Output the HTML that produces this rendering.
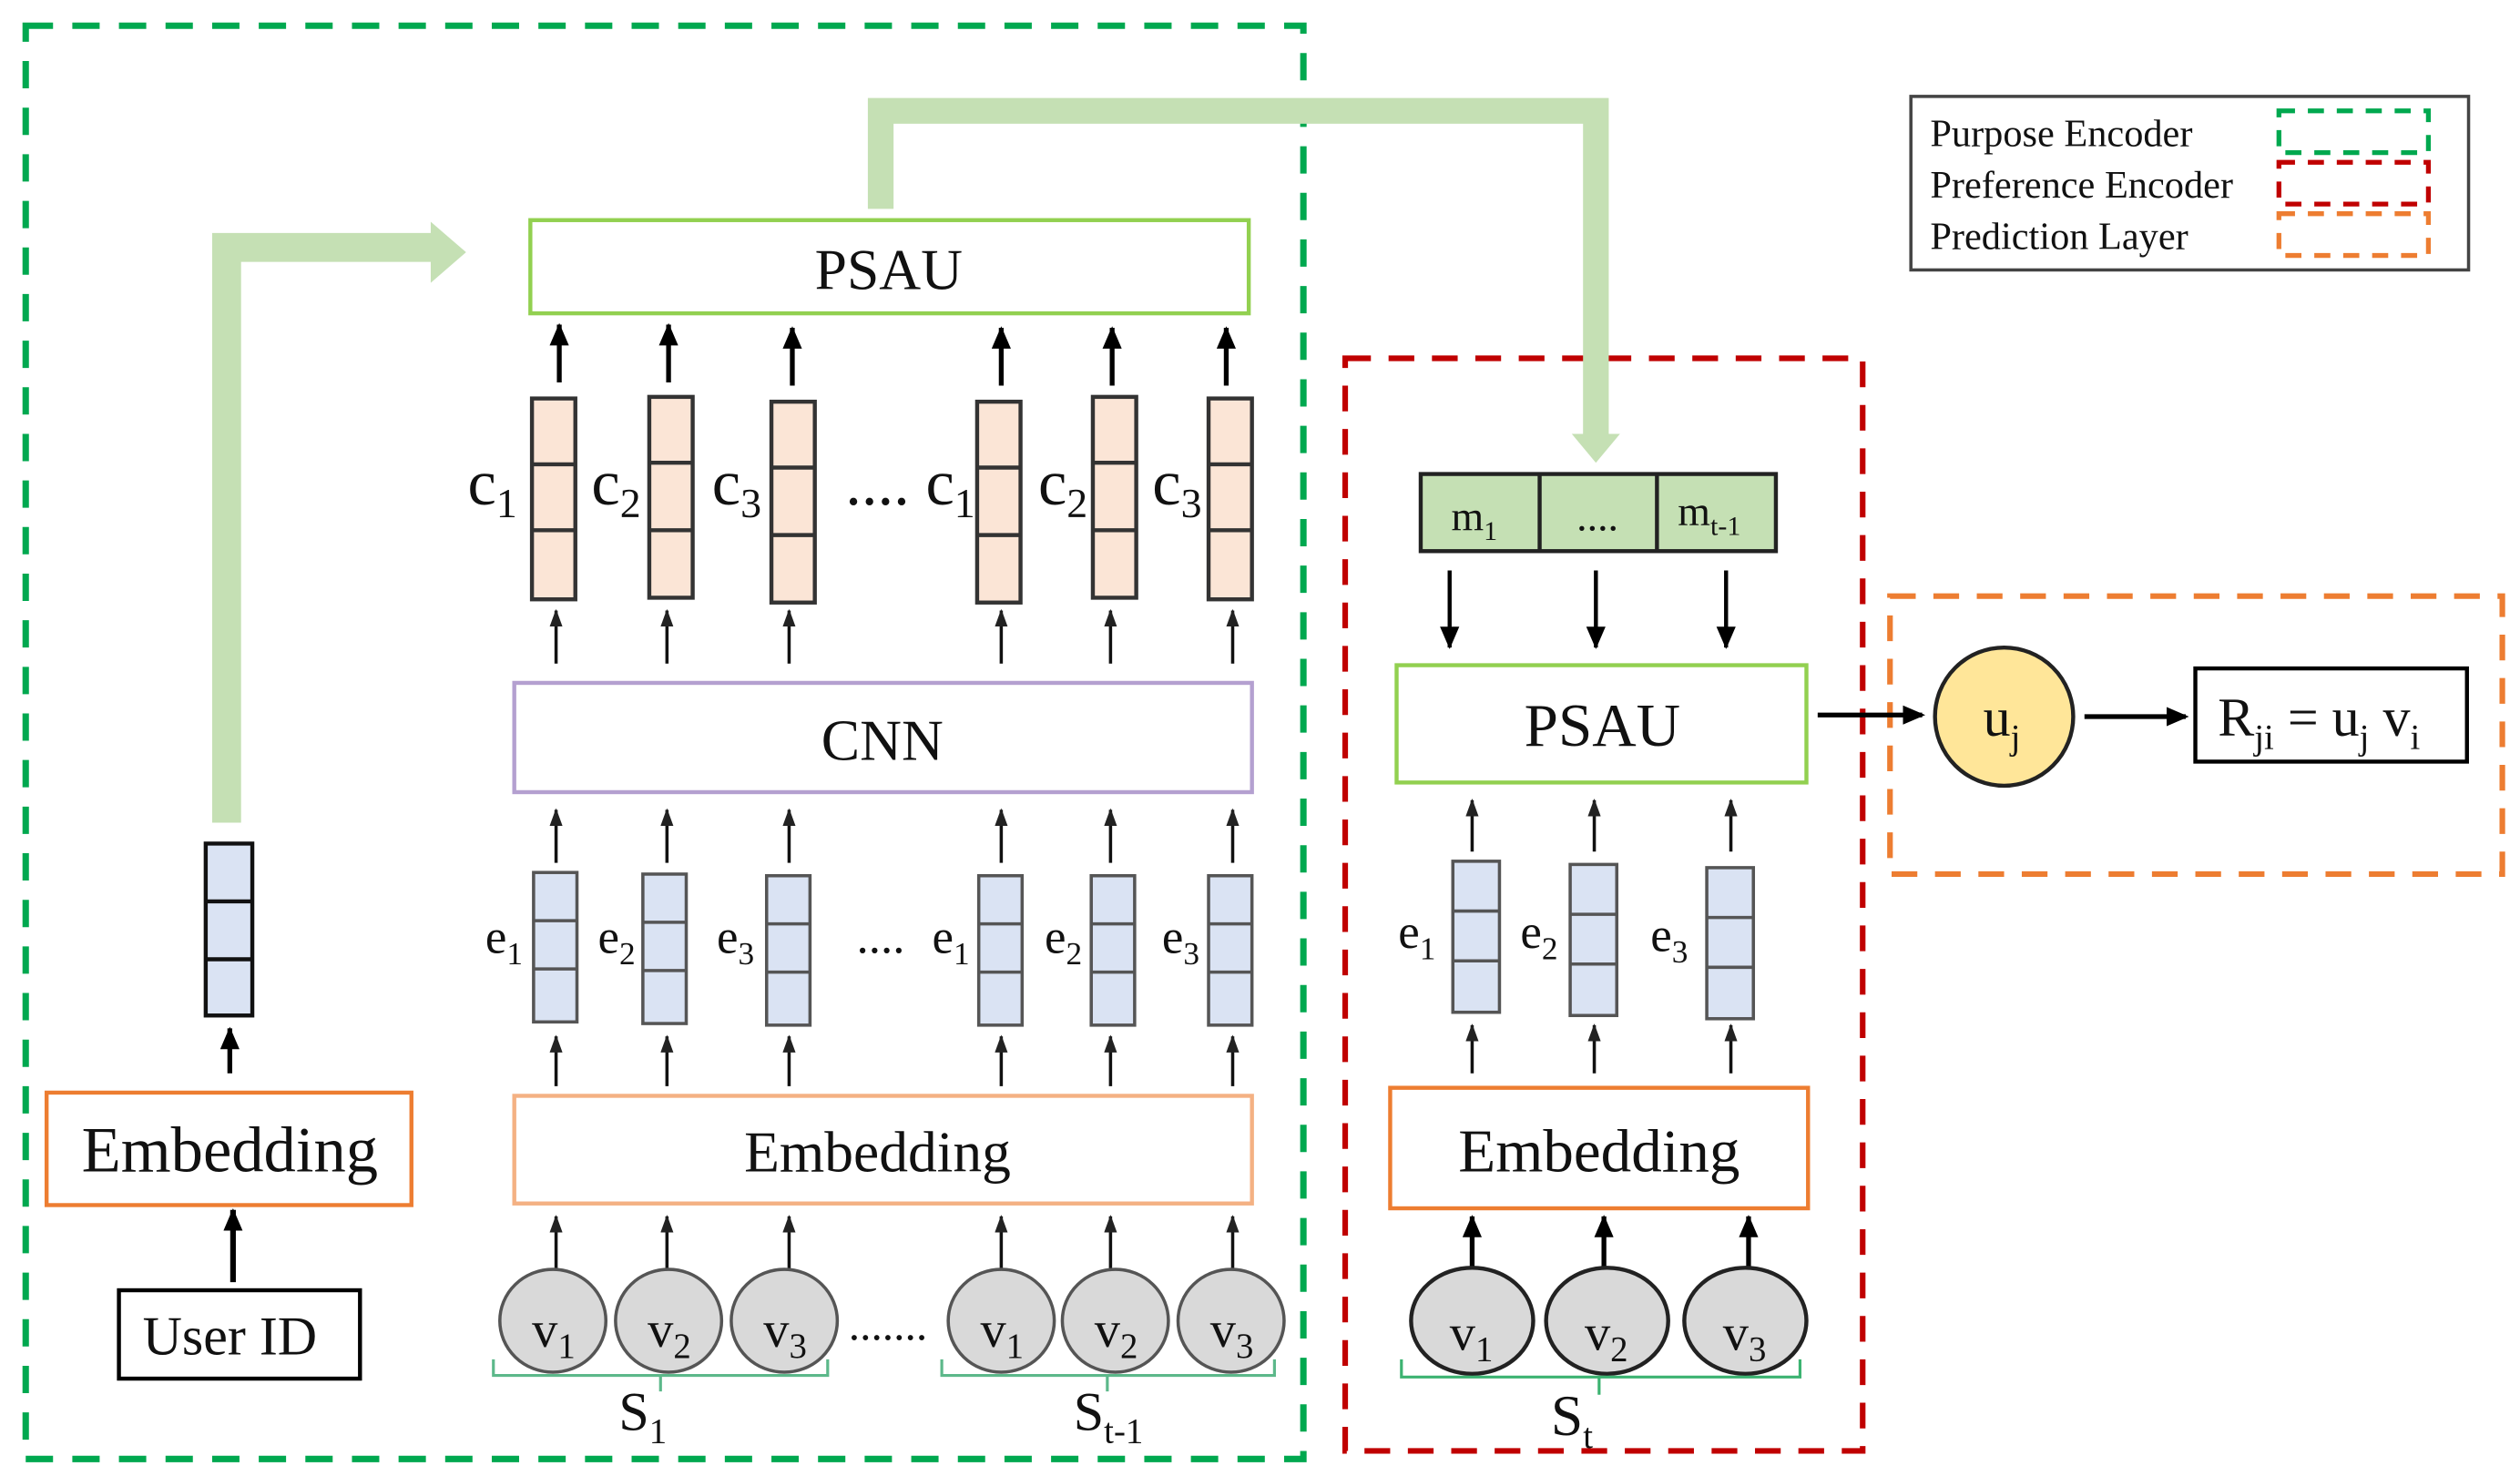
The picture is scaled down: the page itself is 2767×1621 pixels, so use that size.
<!DOCTYPE html>
<html><head><meta charset="utf-8"><style>
html,body{margin:0;padding:0;background:#fff;font-family:"Liberation Serif","DejaVu Serif",serif;}
svg{display:block;}
svg text, svg tspan{font-family:"Liberation Serif","DejaVu Serif",serif !important;fill:#111;}
</style></head><body>
<svg width="2767" height="1621" viewBox="0 0 1568 918.6" preserveAspectRatio="none" xmlns="http://www.w3.org/2000/svg" font-family="'Liberation Serif', 'DejaVu Serif', serif">
<defs>
<marker id="ah" markerUnits="userSpaceOnUse" markerWidth="14" markerHeight="12" refX="13" refY="6" orient="auto" viewBox="0 0 14 12">
<path d="M0,0 L14,6 L0,12 Z" fill="#000"/></marker>
<marker id="as" markerUnits="userSpaceOnUse" markerWidth="11" markerHeight="8" refX="10" refY="4" orient="auto" viewBox="0 0 11 8">
<path d="M0,0 L11,4 L0,8 Z" fill="#222"/></marker>
<marker id="ar" markerUnits="userSpaceOnUse" markerWidth="14" markerHeight="12" refX="12" refY="6" orient="auto" viewBox="0 0 14 12">
<path d="M0,0 L14,6 L0,12 Z" fill="#000"/></marker>
</defs>

<rect x="16" y="16" width="795" height="892" fill="none" stroke="#00a84f" stroke-width="4" stroke-dasharray="17,12"/>
<rect x="837" y="223" width="322" height="680" fill="none" stroke="#c00000" stroke-width="3.5" stroke-dasharray="16,11"/>
<rect x="1176" y="371" width="381" height="173" fill="none" stroke="#ed7d31" stroke-width="3.5" stroke-dasharray="16,11"/>

<rect x="1189" y="60" width="347" height="108" fill="#fff" stroke="#444" stroke-width="2"/>
<text x="1201" y="91" font-size="24">Purpose Encoder</text>
<text x="1201" y="123" font-size="24">Preference Encoder</text>
<text x="1201" y="155" font-size="24">Prediction Layer</text>
<rect x="1418" y="69" width="93" height="26" fill="none" stroke="#00a84f" stroke-width="3" stroke-dasharray="10,8"/>
<rect x="1418" y="101" width="93" height="26" fill="none" stroke="#c00000" stroke-width="3" stroke-dasharray="10,8"/>
<rect x="1418" y="133" width="93" height="26" fill="none" stroke="#ed7d31" stroke-width="3" stroke-dasharray="10,8"/>

<path d="M141,512 V154 H270" fill="none" stroke="#c5e0b4" stroke-width="18"/>
<polygon points="268,138 290,157 268,176" fill="#c5e0b4"/>
<path d="M548,130 V69 H993 V272" fill="none" stroke="#c5e0b4" stroke-width="16"/>
<polygon points="978,270 1008,270 993,288" fill="#c5e0b4"/>

<rect x="330" y="137" width="447" height="58" fill="#fff" stroke="#92d050" stroke-width="2.5"/>
<text x="553" y="180" font-size="36" text-anchor="middle">PSAU</text>

<g stroke="#000" stroke-width="3" marker-end="url(#ah)">
<line x1="348" y1="238" x2="348" y2="202"/><line x1="416" y1="238" x2="416" y2="202"/>
<line x1="493" y1="240" x2="493" y2="204"/><line x1="623" y1="240" x2="623" y2="204"/>
<line x1="692" y1="240" x2="692" y2="204"/><line x1="763" y1="240" x2="763" y2="204"/>
</g>

<g fill="#fbe5d6" stroke="#333" stroke-width="2.5">
<rect x="331" y="248" width="27" height="125"/><line x1="331" y1="289" x2="358" y2="289"/><line x1="331" y1="330" x2="358" y2="330"/>
<rect x="404" y="247" width="27" height="125"/><line x1="404" y1="288" x2="431" y2="288"/><line x1="404" y1="330" x2="431" y2="330"/>
<rect x="480" y="250" width="27" height="125"/><line x1="480" y1="291" x2="507" y2="291"/><line x1="480" y1="333" x2="507" y2="333"/>
<rect x="608" y="250" width="27" height="125"/><line x1="608" y1="291" x2="635" y2="291"/><line x1="608" y1="333" x2="635" y2="333"/>
<rect x="680" y="247" width="27" height="125"/><line x1="680" y1="288" x2="707" y2="288"/><line x1="680" y1="330" x2="707" y2="330"/>
<rect x="752" y="248" width="27" height="125"/><line x1="752" y1="289" x2="779" y2="289"/><line x1="752" y1="330" x2="779" y2="330"/>
</g>
<g font-size="40">
<text x="291" y="314">c<tspan font-size="26" dy="8">1</tspan></text>
<text x="368" y="314">c<tspan font-size="26" dy="8">2</tspan></text>
<text x="443" y="314">c<tspan font-size="26" dy="8">3</tspan></text>
<text x="526" y="314">....</text>
<text x="576" y="314">c<tspan font-size="26" dy="8">1</tspan></text>
<text x="646" y="314">c<tspan font-size="26" dy="8">2</tspan></text>
<text x="717" y="314">c<tspan font-size="26" dy="8">3</tspan></text>
</g>

<g stroke="#111" stroke-width="2" marker-end="url(#as)">
<line x1="346" y1="413" x2="346" y2="380"/><line x1="415" y1="413" x2="415" y2="380"/>
<line x1="491" y1="413" x2="491" y2="380"/><line x1="623" y1="413" x2="623" y2="380"/>
<line x1="691" y1="413" x2="691" y2="380"/><line x1="767" y1="413" x2="767" y2="380"/>
</g>

<rect x="320" y="425" width="459" height="68" fill="#fff" stroke="#b4a0d0" stroke-width="2.5"/>
<text x="549" y="473" font-size="36" text-anchor="middle">CNN</text>

<g stroke="#111" stroke-width="2" marker-end="url(#as)">
<line x1="346" y1="537" x2="346" y2="504"/><line x1="415" y1="537" x2="415" y2="504"/>
<line x1="491" y1="537" x2="491" y2="504"/><line x1="623" y1="537" x2="623" y2="504"/>
<line x1="691" y1="537" x2="691" y2="504"/><line x1="767" y1="537" x2="767" y2="504"/>
</g>

<g fill="#dae3f3" stroke="#555" stroke-width="2">
<rect x="332" y="543" width="27" height="93"/><line x1="332" y1="573" x2="359" y2="573"/><line x1="332" y1="603" x2="359" y2="603"/>
<rect x="400" y="544" width="27" height="93"/><line x1="400" y1="574" x2="427" y2="574"/><line x1="400" y1="604" x2="427" y2="604"/>
<rect x="477" y="545" width="27" height="93"/><line x1="477" y1="575" x2="504" y2="575"/><line x1="477" y1="605" x2="504" y2="605"/>
<rect x="609" y="545" width="27" height="93"/><line x1="609" y1="575" x2="636" y2="575"/><line x1="609" y1="605" x2="636" y2="605"/>
<rect x="679" y="545" width="27" height="93"/><line x1="679" y1="575" x2="706" y2="575"/><line x1="679" y1="605" x2="706" y2="605"/>
<rect x="752" y="545" width="27" height="93"/><line x1="752" y1="575" x2="779" y2="575"/><line x1="752" y1="605" x2="779" y2="605"/>
</g>
<g font-size="30" fill="#333">
<text x="302" y="593">e<tspan font-size="20" dy="7">1</tspan></text>
<text x="372" y="593">e<tspan font-size="20" dy="7">2</tspan></text>
<text x="446" y="593">e<tspan font-size="20" dy="7">3</tspan></text>
<text x="533" y="593">....</text>
<text x="580" y="593">e<tspan font-size="20" dy="7">1</tspan></text>
<text x="650" y="593">e<tspan font-size="20" dy="7">2</tspan></text>
<text x="723" y="593">e<tspan font-size="20" dy="7">3</tspan></text>
</g>

<g stroke="#111" stroke-width="2" marker-end="url(#as)">
<line x1="346" y1="676" x2="346" y2="645"/><line x1="415" y1="676" x2="415" y2="645"/>
<line x1="491" y1="676" x2="491" y2="645"/><line x1="623" y1="676" x2="623" y2="645"/>
<line x1="691" y1="676" x2="691" y2="645"/><line x1="767" y1="676" x2="767" y2="645"/>
</g>

<rect x="320" y="682" width="459" height="67" fill="#fff" stroke="#f4b183" stroke-width="2.5"/>
<text x="546" y="729" font-size="36" text-anchor="middle" fill="#222">Embedding</text>

<g stroke="#111" stroke-width="2" marker-end="url(#as)">
<line x1="346" y1="790" x2="346" y2="757"/><line x1="415" y1="790" x2="415" y2="757"/>
<line x1="491" y1="790" x2="491" y2="757"/><line x1="623" y1="790" x2="623" y2="757"/>
<line x1="691" y1="790" x2="691" y2="757"/><line x1="767" y1="790" x2="767" y2="757"/>
</g>

<g fill="#d9d9d9" stroke="#555" stroke-width="2">
<ellipse cx="344" cy="822" rx="33" ry="32"/><ellipse cx="416" cy="822" rx="33" ry="32"/>
<ellipse cx="488" cy="822" rx="33" ry="32"/><ellipse cx="623" cy="822" rx="33" ry="32"/>
<ellipse cx="694" cy="822" rx="33" ry="32"/><ellipse cx="766" cy="822" rx="33" ry="32"/>
</g>
<g font-size="32" fill="#222">
<text x="331" y="838">v<tspan font-size="22" dy="7">1</tspan></text>
<text x="403" y="838">v<tspan font-size="22" dy="7">2</tspan></text>
<text x="475" y="838">v<tspan font-size="22" dy="7">3</tspan></text>
<text x="528" y="834" font-size="28">.......</text>
<text x="610" y="838">v<tspan font-size="22" dy="7">1</tspan></text>
<text x="681" y="838">v<tspan font-size="22" dy="7">2</tspan></text>
<text x="753" y="838">v<tspan font-size="22" dy="7">3</tspan></text>
</g>
<g fill="none" stroke="#5cb88a" stroke-width="1.8">
<path d="M307,846 V856 H515 V846 M411,856 V866"/>
<path d="M586,846 V856 H793 V846 M689,856 V866"/>
</g>
<text x="385" y="890" font-size="34" fill="#222">S<tspan font-size="22" dy="8">1</tspan></text>
<text x="668" y="890" font-size="34" fill="#222">S<tspan font-size="22" dy="8">t-1</tspan></text>

<rect x="128" y="525" width="29" height="107" fill="#dae3f3" stroke="#111" stroke-width="2.5"/>
<line x1="128" y1="561" x2="157" y2="561" stroke="#111" stroke-width="2.5"/>
<line x1="128" y1="597" x2="157" y2="597" stroke="#111" stroke-width="2.5"/>
<line x1="143" y1="668" x2="143" y2="640" stroke="#000" stroke-width="3" marker-end="url(#ah)"/>
<rect x="29" y="680" width="227" height="70" fill="#fff" stroke="#ed7d31" stroke-width="2.5"/>
<text x="143" y="729" font-size="40" text-anchor="middle">Embedding</text>
<line x1="145" y1="798" x2="145" y2="753" stroke="#000" stroke-width="3.5" marker-end="url(#ah)"/>
<rect x="74" y="803" width="150" height="55" fill="#fff" stroke="#000" stroke-width="2.5"/>
<text x="143" y="843" font-size="34" text-anchor="middle">User ID</text>

<rect x="884" y="295" width="221" height="48" fill="#c5e0b4" stroke="#222" stroke-width="2.5"/>
<line x1="958" y1="295" x2="958" y2="343" stroke="#222" stroke-width="2.5"/>
<line x1="1031" y1="295" x2="1031" y2="343" stroke="#222" stroke-width="2.5"/>
<text x="903" y="330" font-size="26">m<tspan font-size="17" dy="6">1</tspan></text>
<text x="994" y="330" font-size="26" text-anchor="middle">....</text>
<text x="1044" y="327" font-size="26">m<tspan font-size="17" dy="6">t-1</tspan></text>
<g stroke="#000" stroke-width="2.5" marker-end="url(#ah)">
<line x1="902" y1="355" x2="902" y2="403"/><line x1="993" y1="355" x2="993" y2="403"/><line x1="1074" y1="355" x2="1074" y2="403"/>
</g>
<rect x="869" y="414" width="255" height="73" fill="#fff" stroke="#92d050" stroke-width="2.5"/>
<text x="997" y="464" font-size="38" text-anchor="middle">PSAU</text>
<g stroke="#111" stroke-width="2" marker-end="url(#as)">
<line x1="916" y1="530" x2="916" y2="498"/><line x1="992" y1="530" x2="992" y2="498"/><line x1="1077" y1="530" x2="1077" y2="498"/>
<line x1="916" y1="668" x2="916" y2="638"/><line x1="992" y1="668" x2="992" y2="638"/><line x1="1077" y1="668" x2="1077" y2="638"/>
</g>
<g fill="#dae3f3" stroke="#555" stroke-width="2">
<rect x="904" y="536" width="29" height="94"/><line x1="904" y1="567" x2="933" y2="567"/><line x1="904" y1="598" x2="933" y2="598"/>
<rect x="977" y="538" width="29" height="94"/><line x1="977" y1="569" x2="1006" y2="569"/><line x1="977" y1="600" x2="1006" y2="600"/>
<rect x="1062" y="540" width="29" height="94"/><line x1="1062" y1="571" x2="1091" y2="571"/><line x1="1062" y1="602" x2="1091" y2="602"/>
</g>
<g font-size="30" fill="#333">
<text x="870" y="590">e<tspan font-size="20" dy="7">1</tspan></text>
<text x="946" y="590">e<tspan font-size="20" dy="7">2</tspan></text>
<text x="1027" y="592">e<tspan font-size="20" dy="7">3</tspan></text>
</g>
<rect x="865" y="677" width="260" height="75" fill="#fff" stroke="#ed7d31" stroke-width="2.5"/>
<text x="995" y="729" font-size="38" text-anchor="middle">Embedding</text>
<g stroke="#000" stroke-width="3" marker-end="url(#ah)">
<line x1="916" y1="788" x2="916" y2="757"/><line x1="998" y1="788" x2="998" y2="757"/><line x1="1088" y1="788" x2="1088" y2="757"/>
</g>
<g fill="#d9d9d9" stroke="#222" stroke-width="2.5">
<ellipse cx="916" cy="822" rx="38" ry="33"/><ellipse cx="1000" cy="822" rx="38" ry="33"/><ellipse cx="1086" cy="822" rx="38" ry="33"/>
</g>
<g font-size="32" fill="#222">
<text x="902" y="840">v<tspan font-size="22" dy="7">1</tspan></text>
<text x="986" y="840">v<tspan font-size="22" dy="7">2</tspan></text>
<text x="1072" y="840">v<tspan font-size="22" dy="7">3</tspan></text>
</g>
<path d="M872,846 V857 H1120 V846 M995,857 V868" fill="none" stroke="#3cb371" stroke-width="1.8"/>
<text x="965" y="893" font-size="36" fill="#222">S<tspan font-size="22" dy="8">t</tspan></text>

<line x1="1131" y1="445" x2="1196" y2="445" stroke="#000" stroke-width="3" marker-end="url(#ar)"/>
<circle cx="1247" cy="446" r="43" fill="#ffe699" stroke="#222" stroke-width="2.5"/>
<text x="1234" y="458" font-size="34">u<tspan font-size="22" dy="8">j</tspan></text>
<line x1="1297" y1="446" x2="1360" y2="446" stroke="#000" stroke-width="3" marker-end="url(#ar)"/>
<rect x="1366" y="416" width="169" height="58" fill="#fff" stroke="#000" stroke-width="2.5"/>
<text x="1380" y="458" font-size="34">R<tspan font-size="22" dy="8">ji</tspan><tspan dy="-8"> = u</tspan><tspan font-size="22" dy="8">j</tspan><tspan dy="-8"> v</tspan><tspan font-size="22" dy="8">i</tspan></text>
</svg>
</body></html>
